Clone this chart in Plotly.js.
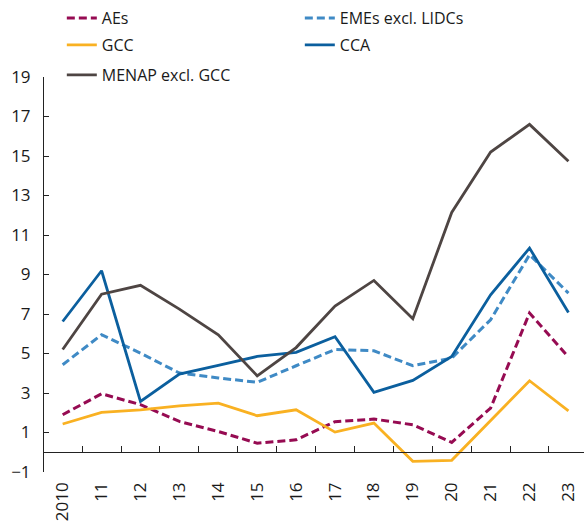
<!DOCTYPE html>
<html>
<head>
<meta charset="utf-8">
<script src="https://cdn.plot.ly/plotly-3.0.1.min.js"></script>
<style>html,body{margin:0;padding:0;background:#fff}#chart{width:584px;height:521px}</style>
</head>
<body>
<div id="chart"></div>
<script>
const years = ['2010','11','12','13','14','15','16','17','18','19','20','21','22','23'];
const aes = [1.90, 2.96, 2.41, 1.56, 1.05, 0.46, 0.63, 1.55, 1.68, 1.39, 0.50, 2.24, 7.05, 4.82];
const emes = [4.43, 5.95, 5.02, 4.01, 3.76, 3.54, 4.38, 5.2, 5.14, 4.38, 4.77, 6.71, 10.0, 8.06];
const gcc = [1.43, 2.02, 2.15, 2.35, 2.49, 1.85, 2.15, 1.02, 1.48, -0.46, -0.41, 1.61, 3.62, 2.10];
const cca = [6.62, 9.19, 2.57, 3.96, 4.40, 4.85, 5.06, 5.85, 3.03, 3.64, 4.85, 7.97, 10.34, 7.08];
const menap = [5.2, 8.0, 8.45, 7.25, 5.95, 3.87, 5.3, 7.4, 8.7, 6.76, 12.14, 15.2, 16.6, 14.73];
const yTicks = [-1, 1, 3, 5, 7, 9, 11, 13, 15, 17, 19];

const idx = years.map((_, i) => i);
const mids = years.slice(1).map((_, i) => i + 0.5);
const FONT = 'Open Sans, Lato, sans-serif';

function tr(name, y, color, dash, width, lg) {
  return {x: idx, y: y, name: name, type: 'scatter', mode: 'lines', legend: lg,
    line: {color: color, width: width, dash: dash}};
}
const data = [
  tr('AEs', aes, '#960B52', '8px,4px', 3, 'legend'),
  tr('EMEs excl. LIDCs', emes, '#3F8AC5', '8px,4px', 3, 'legend'),
  tr('GCC', gcc, '#F9B122', 'solid', 2.8, 'legend2'),
  tr('CCA', cca, '#0B5F9E', 'solid', 2.8, 'legend2'),
  tr('MENAP excl. GCC', menap, '#4E4543', 'solid', 2.8, 'legend3'),
  {x: [0], y: [null], xaxis: 'x2', showlegend: false, hoverinfo: 'skip', type: 'scatter', mode: 'lines'}
];
function lg(y) {
  return {orientation: 'h', x: 0.033, xanchor: 'left', y: y, yanchor: 'middle',
    entrywidth: 193, font: {size: 16, family: FONT, color: '#1a1a1a'}, bgcolor: 'rgba(0,0,0,0)'};
}
const layout = {
  width: 584, height: 521,
  margin: {l: 44, r: 0, t: 77, b: 49},
  paper_bgcolor: '#fff', plot_bgcolor: '#fff',
  font: {family: FONT, size: 17, color: '#1a1a1a'},
  showlegend: true,
  legend: lg(1.149),
  legend2: lg(1.081),
  legend3: lg(1.005),
  xaxis: {range: [-0.48, 13.4], tickvals: idx, ticktext: years, tickangle: -90,
    ticks: '', showline: false, showgrid: false, zeroline: false, ticklabelstandoff: 6,
    tickfont: {size: 17}},
  xaxis2: {range: [-0.48, 13.4], overlaying: 'x', anchor: 'free', position: 0.05,
    tickvals: mids, ticks: 'inside', ticklen: 6, tickcolor: '#222', tickwidth: 1,
    showticklabels: false, showline: true, linecolor: '#222', linewidth: 1,
    showgrid: false, zeroline: false},
  yaxis: {range: [-1, 19], tickvals: yTicks, ticks: 'inside', ticklen: 5, tickcolor: '#222',
    showline: true, linecolor: '#222', linewidth: 1, showgrid: false, zeroline: false,
    ticklabelstandoff: 9, tickfont: {size: 17}}
};
Plotly.newPlot('chart', data, layout, {displayModeBar: false, staticPlot: true});
</script>
</body>
</html>
